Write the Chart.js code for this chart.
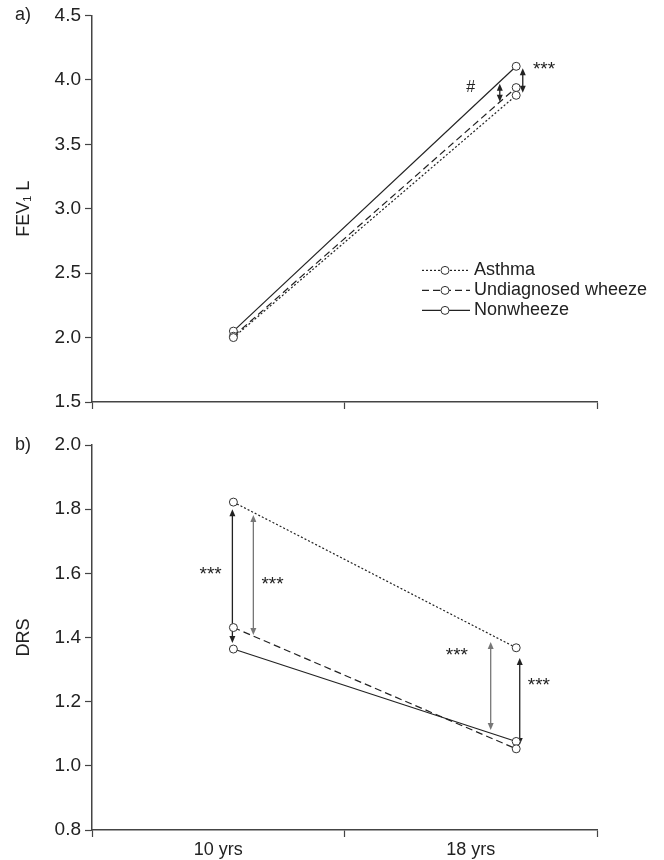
<!DOCTYPE html>
<html>
<head>
<meta charset="utf-8">
<script src="https://cdn.jsdelivr.net/npm/chart.js@4.4.1/dist/chart.umd.min.js"></script>
<style>
  body { margin: 0; background: #fff; }
  #wrap { position: relative; width: 664px; height: 860px; }
  #top { position: absolute; left: 0; top: 0; }
  #bottom { position: absolute; left: 0; top: 425px; }
</style>
</head>
<body>
<div id="wrap">
  <canvas id="top" width="664" height="420"></canvas>
  <canvas id="bottom" width="664" height="435"></canvas>
</div>
<script>
// x positions of the two visits (axis runs 0..2, labels sit at 0.5 and 1.5)
var visitX = [0.56, 1.68];
var xLabels = ["10 yrs", "18 yrs"];
var seriesNames = ["Asthma", "Undiagnosed wheeze", "Nonwheeze"];

// panel a) FEV1 L
var fevAsthma = [2.00, 3.88];
var fevUndiag = [2.01, 3.94];
var fevNonwheeze = [2.05, 4.105];

// panel b) DRS
var drsAsthma = [1.822, 1.368];
var drsUndiag = [1.431, 1.053];
var drsNonwheeze = [1.364, 1.076];

// significance arrows: x, from (top), to (bottom)
var fevArrowX = [1.615, 1.706];
var fevArrowFrom = [3.97, 4.09];
var fevArrowTo = [3.83, 3.90];
var fevArrowGrey = [false, false];
var fevSigText = ["#", "***"];
var fevSigX = [1.50, 1.79];
var fevSigY = [3.94, 4.10];

var drsArrowX = [0.556, 0.639, 1.579, 1.694];
var drsArrowFrom = [1.80, 1.782, 1.386, 1.336];
var drsArrowTo = [1.383, 1.408, 1.112, 1.065];
var drsArrowGrey = [false, true, true, false];
var drsSigText = ["***", "***", "***", "***"];
var drsSigX = [0.47, 0.715, 1.445, 1.77];
var drsSigY = [1.604, 1.573, 1.352, 1.259];

var INK = "#222";
var AXIS = "#444";
var FONT = "'Liberation Sans', Arial, sans-serif";
var dashes = [[2, 2], [7, 4], []];

function pts(vals) {
  return vals.map(function(v, i){ return { x: visitX[i], y: v }; });
}

function makeDatasets(a, u, n) {
  return [a, u, n].map(function(vals, i){
    return {
      label: seriesNames[i],
      data: pts(vals),
      borderColor: INK,
      borderWidth: 1.2,
      borderDash: dashes[i],
      pointRadius: 4,
      pointBackgroundColor: "#fff",
      pointBorderColor: "#333",
      pointBorderWidth: 1,
      tension: 0
    };
  });
}

function head(ctx, x, y, s) {
  // tip at (x,y); s = 1 points up, -1 points down
  ctx.beginPath();
  ctx.moveTo(x, y);
  ctx.lineTo(x - 3, y + 7 * s);
  ctx.lineTo(x + 3, y + 7 * s);
  ctx.closePath();
  ctx.fill();
}

var sigPlugin = {
  id: "sig",
  beforeDatasetsDraw: function(chart, args, o) {
    var ctx = chart.ctx, xs = chart.scales.x, ys = chart.scales.y;
    ctx.save();
    ctx.setLineDash([]);
    ctx.lineWidth = 1.3;
    for (var i = 0; i < o.ax.length; i++) {
      var c = o.grey[i] ? "#777" : INK;
      var x = xs.getPixelForValue(o.ax[i]);
      var y1 = ys.getPixelForValue(o.from[i]);
      var y2 = ys.getPixelForValue(o.to[i]);
      ctx.strokeStyle = c; ctx.fillStyle = c;
      ctx.beginPath();
      ctx.moveTo(x, y1 + 6);
      ctx.lineTo(x, y2 - 6);
      ctx.stroke();
      head(ctx, x, y1, 1);
      head(ctx, x, y2, -1);
    }
    ctx.restore();
  },
  afterDatasetsDraw: function(chart, args, o) {
    var ctx = chart.ctx, xs = chart.scales.x, ys = chart.scales.y, ca = chart.chartArea;
    ctx.save();
    ctx.fillStyle = INK;
    ctx.textBaseline = "middle";
    ctx.textAlign = "center";
    for (var i = 0; i < o.txt.length; i++) {
      ctx.font = (o.txt[i] === "#" ? "16px " : "19px ") + FONT;
      ctx.fillText(o.txt[i], xs.getPixelForValue(o.tx[i]), ys.getPixelForValue(o.ty[i]) + (o.txt[i] === "#" ? 0 : 3));
    }
    // panel letter
    ctx.font = "18px " + FONT;
    ctx.textAlign = "left";
    ctx.fillText(o.letter, 15, ca.top);

    if (o.legend) {
      var lx = ca.left + 330, ly = ca.top + 255;
      for (var k = 0; k < seriesNames.length; k++) {
        var y = ly + k * 20;
        ctx.strokeStyle = INK;
        ctx.lineWidth = 1.2;
        ctx.setLineDash(dashes[k]);
        ctx.beginPath();
        ctx.moveTo(lx, y); ctx.lineTo(lx + 48, y);
        ctx.stroke();
        ctx.setLineDash([]);
        ctx.beginPath();
        ctx.arc(lx + 23, y, 4, 0, Math.PI * 2);
        ctx.fillStyle = "#fff"; ctx.fill();
        ctx.strokeStyle = "#333"; ctx.lineWidth = 1; ctx.stroke();
        ctx.fillStyle = INK;
        ctx.fillText(seriesNames[k], lx + 52, y);
      }
    }
    ctx.restore();
  }
};

function makeChart(id, datasets, yMin, yMax, yStep, yTitle, xHeight, sig, showX) {
  var ctx = document.getElementById(id).getContext("2d");
  return new Chart(ctx, {
    type: "line",
    data: { datasets: datasets },
    plugins: [sigPlugin],
    options: {
      responsive: false,
      animation: false,
      devicePixelRatio: 1,
      layout: { padding: { left: 0, right: 67, top: id === "top" ? 15 : 20, bottom: 0 } },
      plugins: {
        legend: { display: false },
        tooltip: { enabled: false },
        sig: sig
      },
      scales: {
        x: {
          type: "linear",
          min: 0, max: 2,
          afterBuildTicks: function(s){
            s.ticks = [0, 0.5, 1, 1.5, 2].map(function(v){ return { value: v }; });
          },
          afterFit: function(s){ s.height = xHeight; },
          border: { color: AXIS, width: 1.5 },
          grid: {
            drawOnChartArea: false,
            drawTicks: true,
            tickLength: 7,
            tickWidth: 1.2,
            tickColor: function(c){ return (c.tick && c.tick.value % 1 === 0) ? AXIS : "rgba(0,0,0,0)"; }
          },
          ticks: {
            autoSkip: false,
            maxRotation: 0,
            padding: 2,
            color: INK,
            font: { family: FONT, size: 18 },
            callback: function(v){
              if (!showX) return "";
              if (v === 0.5) return xLabels[0];
              if (v === 1.5) return xLabels[1];
              return "";
            }
          }
        },
        y: {
          min: yMin, max: yMax,
          afterFit: function(s){ s.width = 92; },
          border: { color: AXIS, width: 1.5 },
          grid: { drawOnChartArea: false, drawTicks: true, tickLength: 7, tickWidth: 1.2, tickColor: AXIS },
          ticks: {
            stepSize: yStep,
            padding: 4,
            color: INK,
            font: { family: FONT, size: 19 },
            callback: function(v){ return Number(v).toFixed(1); }
          },
          title: {
            display: true,
            text: yTitle,
            color: INK,
            font: { family: FONT, size: 18 },
            padding: { top: 13, bottom: 0 }
          }
        }
      }
    }
  });
}

makeChart("top", makeDatasets(fevAsthma, fevUndiag, fevNonwheeze), 1.5, 4.5, 0.5, "FEV\u2081 L", 18, {
  ax: fevArrowX, from: fevArrowFrom, to: fevArrowTo, grey: fevArrowGrey,
  txt: fevSigText, tx: fevSigX, ty: fevSigY, letter: "a)", legend: true
}, false);

makeChart("bottom", makeDatasets(drsAsthma, drsUndiag, drsNonwheeze), 0.8, 2.0, 0.2, "DRS", 30, {
  ax: drsArrowX, from: drsArrowFrom, to: drsArrowTo, grey: drsArrowGrey,
  txt: drsSigText, tx: drsSigX, ty: drsSigY, letter: "b)", legend: false
}, true);
</script>
</body>
</html>
